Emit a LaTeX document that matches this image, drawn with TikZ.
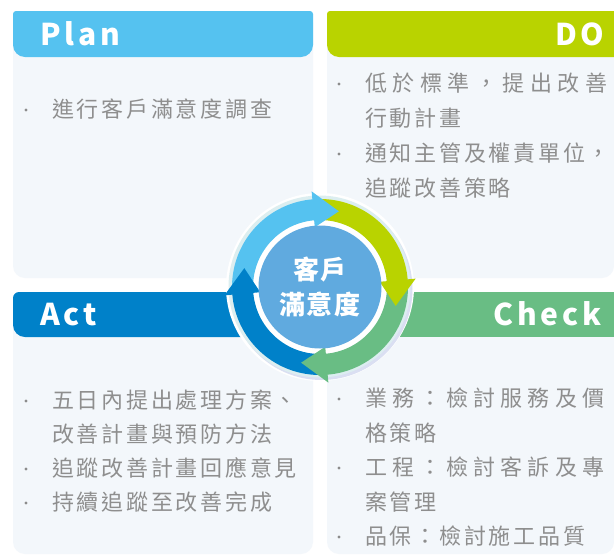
\documentclass[tikz,border=0pt]{standalone}
\usepackage{fontspec}
\usetikzlibrary{calc}
\newfontfamily\cjkls[LetterSpace=12.5]{Noto Sans CJK TC}
\newfontfamily\cjkpl{Noto Sans CJK TC}
\newfontfamily\hdfont[LetterSpace=13]{Noto Sans CJK TC}
\newfontfamily\ctrfont[LetterSpace=6]{Noto Sans CJK TC}
\definecolor{planc}{HTML}{55C2F0}
\definecolor{doc}{HTML}{B9D300}
\definecolor{actc}{HTML}{0081C9}
\definecolor{checkc}{HTML}{69BD84}
\definecolor{bodyc}{HTML}{F3F7FB}
\definecolor{txtc}{HTML}{8E8E8E}
\definecolor{dotc}{HTML}{8C8C8C}
\definecolor{innerc}{HTML}{60AADF}
\definecolor{haloc}{HTML}{DCEEF0}
\definecolor{lavc}{HTML}{DADFF2}
\newcommand\ringseg[3]{\fill[#1] ($(C)+(#2:88)$) arc[start angle=#2, end angle=#3, radius=88] -- ($(C)+(#3:67)$) arc[start angle=#3, end angle=#2, radius=67] -- cycle;}
\newcommand\ringhead[2]{\fill[#1] ($(C)+({#2+19}:60)$) -- ($(C)+({#2+19}:96)$) -- ($(C)+(#2:78)$) -- cycle;}
\begin{document}
\begin{tikzpicture}[x=1pt,y=1pt,
  bodybox/.style={fill=bodyc, rounded corners=12pt},
  hdtxt/.style={text=white, font=\hdfont\bfseries\fontsize{30}{30}\selectfont, inner sep=0pt, anchor=base west},
  item/.style={text=txtc, font=\cjkls\fontsize{22}{22}\selectfont, inner sep=0pt, anchor=base west},
  jitem/.style={text=txtc, font=\cjkpl\fontsize{22}{22}\selectfont, inner sep=0pt, anchor=base west},
  dot/.style={circle, fill=dotc, inner sep=0pt, minimum size=3.2pt},
  ctr/.style={text=white, font=\ctrfont\bfseries\fontsize{26}{35}\selectfont, align=center, inner sep=0pt}
]
\fill[white] (0,0) rectangle (614,-555);
\useasboundingbox (0,0) rectangle (614,-555);

% panels
\path[bodybox] (13,-11) rectangle (313,-278);
\path[bodybox] (327,-11) rectangle (614,-278);
\path[bodybox] (13,-292) rectangle (313,-554);
\path[bodybox] (327,-292) rectangle (614,-554);

% header bands
\path[fill=planc, rounded corners=12pt] (13,-30) -- (13,-57) -- (313,-57) -- (313,-30) [rounded corners=3pt] -- (313,-11) -- (13,-11) -- cycle;
\path[fill=doc, rounded corners=12pt] (327,-30) -- (327,-57) -- (630,-57) -- (630,-11) [rounded corners=3pt] -- (327,-11) -- cycle;
\path[fill=actc, rounded corners=12pt] (13,-310) -- (13,-337) -- (265,-337) -- (265,-292) [rounded corners=6pt] -- (13,-292) -- cycle;
\path[fill=checkc] (375,-292) rectangle (630,-337);

% header texts
\node[hdtxt] (tplan) at (40,-45) {Plan};
\node[hdtxt] (tdo) at (555,-45) {DO};
\node[hdtxt] (tact) at (40,-325) {Act};
\node[hdtxt] (tcheck) at (493,-325) {Check};

% Plan items
\node[dot] (bp1) at (26,-110) {};
\node[item] (p1) at (52,-117.5) {進行客戶滿意度調查};

% DO items
\node[dot] (bd1) at (339,-84) {};
\node[jitem] (d1) at (365,-91.5) {\makebox[242pt][s]{低 於 標 準 ， 提 出 改 善}};
\node[item] (d2) at (365,-126.5) {行動計畫};
\node[dot] (bd2) at (339,-154) {};
\node[item] (d3) at (365,-161.5) {通知主管及權責單位，};
\node[item] (d4) at (365,-196.5) {追蹤改善策略};

% Act items
\node[dot] (ba1) at (26,-401) {};
\node[item] (a1) at (52,-408.5) {五日內提出處理方案、};
\node[item] (a2) at (52,-442.5) {改善計畫與預防方法};
\node[dot] (ba2) at (26,-469) {};
\node[item] (a3) at (52,-476.5) {追蹤改善計畫回應意見};
\node[dot] (ba3) at (26,-503) {};
\node[item] (a4) at (52,-510.5) {持續追蹤至改善完成};

% Check items
\node[dot] (bc1) at (339,-399) {};
\node[jitem] (c1) at (365,-406.5) {\makebox[239pt][s]{業 務 ： 檢 討 服 務 及 價}};
\node[item] (c2) at (365,-441.5) {格策略};
\node[dot] (bc2) at (339,-468) {};
\node[jitem] (c3) at (365,-475.5) {\makebox[239pt][s]{工 程 ： 檢 討 客 訴 及 專}};
\node[item] (c4) at (365,-510.5) {案管理};
\node[dot] (bc3) at (339,-537) {};
\node[item] (c5) at (365,-544.5) {品保：檢討施工品質};

% central cycle
\coordinate (C) at (320,-287);
\fill[white] (C) circle (94);
\fill[lavc] ($(C)+(1.5,-2)$) circle (91);
\fill[haloc] ($(C)+(-0.5,0.5)$) circle (91);
\fill[white] (C) circle (67);
\ringseg{planc}{179}{94}
\ringseg{doc}{89}{4}
\ringseg{checkc}{-1}{-86}
\ringseg{actc}{-91}{-176}
\ringhead{planc}{76}
\ringhead{doc}{-14}
\ringhead{checkc}{-104}
\ringhead{actc}{166}
\fill[innerc] (C) circle (61.5);
\node[ctr] (center) at (C) {客戶\\滿意度};
\end{tikzpicture}
\end{document}
